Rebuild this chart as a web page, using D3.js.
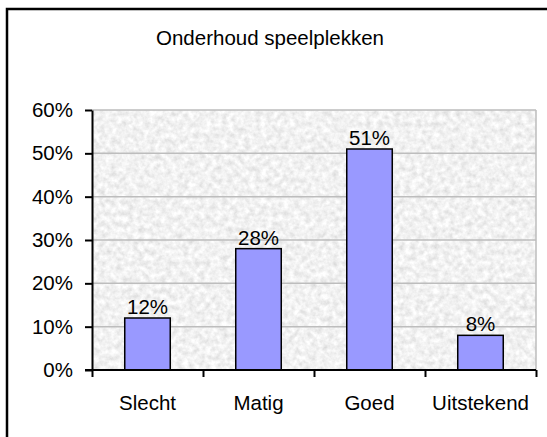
<!DOCTYPE html>
<html>
<head>
<meta charset="utf-8">
<script src="https://cdn.jsdelivr.net/npm/d3@7"></script>
<style>
  body { margin: 0; background: #fff; }
  text { font-family: "Liberation Sans", Arial, sans-serif; fill: #000; }
</style>
</head>
<body>
<svg></svg>
<script>
var width = 547,
    height = 437;

// data
var categories = ["Slecht", "Matig", "Goed", "Uitstekend"];
var values = [0.12, 0.28, 0.51, 0.08];
var yTicks = [0, 0.1, 0.2, 0.3, 0.4, 0.5, 0.6];
var title = "Onderhoud speelplekken";

var plot = {left: 92, right: 536, top: 110, bottom: 370};
var fontSize = "20.5px";

var svg = d3.select("svg")
    .attr("width", width)
    .attr("height", height);

///////////////////////
// texture for plot area
///////////////////////
var defs = svg.append("defs");
var filter = defs.append("filter")
    .attr("id", "granite")
    .attr("x", 0).attr("y", 0).attr("width", 1).attr("height", 1);
filter.append("feTurbulence")
    .attr("type", "fractalNoise")
    .attr("baseFrequency", 0.18)
    .attr("numOctaves", 3)
    .attr("seed", 7);
filter.append("feColorMatrix")
    .attr("type", "matrix")
    .attr("values", "0.45 0 0 0 0.66  0.45 0 0 0 0.66  0.45 0 0 0 0.66  0 0 0 0 1");

// outer frame (right and bottom fall outside the picture)
svg.append("rect")
    .attr("x", 7)
    .attr("y", 9)
    .attr("width", 600)
    .attr("height", 500)
    .attr("fill", "none")
    .attr("stroke", "#000")
    .attr("stroke-width", 2.5);

var x = d3.scaleBand()
    .domain(categories)
    .range([plot.left, plot.right])
    .paddingInner(0.59)
    .paddingOuter(0.295);

var xEdges = d3.scaleLinear()
    .domain([0, categories.length])
    .range([plot.left, plot.right]);

var y = d3.scaleLinear()
    .domain([0, 0.6])
    .range([plot.bottom, plot.top]);

// plot background
svg.append("rect")
    .attr("x", plot.left)
    .attr("y", plot.top)
    .attr("width", plot.right - plot.left)
    .attr("height", plot.bottom - plot.top)
    .attr("fill", "#e8e8e8")
    .attr("filter", "url(#granite)");

// gridlines
svg.selectAll(".grid")
    .data(yTicks.slice(1))
    .enter()
    .append("line")
    .attr("x1", plot.left)
    .attr("x2", plot.right)
    .attr("y1", function(d) { return y(d); })
    .attr("y2", function(d) { return y(d); })
    .attr("stroke", "#bdbdbd")
    .attr("stroke-width", 1.5);

svg.append("line")
    .attr("x1", plot.right)
    .attr("x2", plot.right)
    .attr("y1", plot.top)
    .attr("y2", plot.bottom)
    .attr("stroke", "#bdbdbd")
    .attr("stroke-width", 1.5);

// bars
svg.selectAll(".bar")
    .data(values)
    .enter()
    .append("rect")
    .attr("x", function(d, i) { return x(categories[i]); })
    .attr("y", function(d) { return y(d); })
    .attr("width", x.bandwidth())
    .attr("height", function(d) { return y(0) - y(d); })
    .attr("fill", "#9999ff")
    .attr("stroke", "#000")
    .attr("stroke-width", 1.5);

// value labels
svg.selectAll(".value")
    .data(values)
    .enter()
    .append("text")
    .attr("x", function(d, i) { return x(categories[i]) + x.bandwidth() / 2; })
    .attr("y", function(d) { return y(d) - 4; })
    .attr("text-anchor", "middle")
    .style("font-size", fontSize)
    .text(function(d) { return d3.format(".0%")(d); });

// y axis
var yAxis = svg.append("g")
    .attr("transform", "translate(" + plot.left + ",0)")
    .call(d3.axisLeft(y)
        .tickValues(yTicks)
        .tickFormat(d3.format(".0%"))
        .tickSize(7)
        .tickSizeOuter(0)
        .tickPadding(12));
yAxis.selectAll("text")
    .style("font-size", fontSize)
    .attr("fill", "#000")
    .attr("font-family", null);
yAxis.selectAll("line, path").attr("stroke", "#000").attr("stroke-width", 2);

// x axis: ticks on category edges
var xTicks = svg.append("g")
    .attr("transform", "translate(0," + plot.bottom + ")")
    .call(d3.axisBottom(xEdges)
        .ticks(categories.length)
        .tickFormat("")
        .tickSize(7)
        .tickSizeOuter(0));
xTicks.selectAll("line, path").attr("stroke", "#000").attr("stroke-width", 2);
xTicks.select(".domain").attr("d", "M" + (plot.left - 7) + ",0H" + plot.right);

// x axis: labels centred on categories
var xLabels = svg.append("g")
    .attr("transform", "translate(0," + plot.bottom + ")")
    .call(d3.axisBottom(x)
        .tickSize(0)
        .tickPadding(25));
xLabels.select(".domain").remove();
xLabels.selectAll("text")
    .style("font-size", fontSize)
    .attr("fill", "#000")
    .attr("font-family", null);

// title
svg.append("text")
    .attr("x", 270)
    .attr("y", 45)
    .attr("text-anchor", "middle")
    .style("font-size", fontSize)
    .text(title);
</script>
</body>
</html>
